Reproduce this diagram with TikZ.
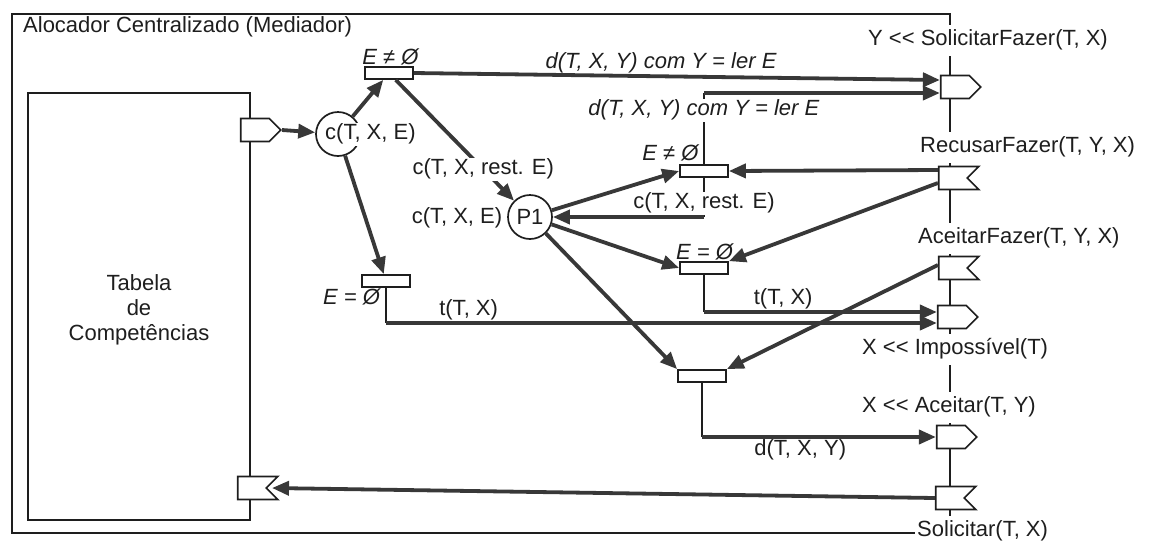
\documentclass[tikz,border=0pt]{standalone}
\usepackage{fontspec}
\setmainfont{Liberation Sans}
\usetikzlibrary{arrows.meta,shapes.symbols,calc}

\definecolor{ink}{HTML}{1E1E1E}
\definecolor{flowgray}{HTML}{383838}

\tikzset{
  lbl/.style={font=\fontsize{22}{25}\selectfont, text=ink, inner sep=1pt, text height=16pt, text depth=5pt},
  msg/.style={lbl, fill=white, inner xsep=2pt, inner ysep=5pt, anchor=west},
  tabtext/.style={font=\fontsize{22}{25}\selectfont, text=ink, align=center},
  trans/.style={rectangle, draw=ink, line width=1.7pt, fill=white, minimum width=48pt, minimum height=12pt, inner sep=0pt},
  place/.style={circle, draw=ink, line width=1.7pt, minimum size=44pt, inner sep=0pt, font=\fontsize{22}{25}\selectfont, text=ink},
  portbase/.style={signal, draw=ink, fill=white, line width=1.7pt, minimum width=40pt, minimum height=23pt, inner sep=0pt, signal pointer angle=90},
  portout/.style={portbase, signal to=east, signal from=nowhere},
  portin/.style={portbase, signal to=nowhere, signal from=east},
  frame/.style={draw=ink, line width=1.7pt},
  stub/.style={draw=ink, line width=1.7pt},
  flow/.style={draw=flowgray, line width=3.8pt, -{Triangle[length=17pt,width=14pt]}},
}

\begin{document}
\begin{tikzpicture}[x=1pt,y=-1pt]
\useasboundingbox (0,0) rectangle (1154,542);

% mediator and table frames
\draw[frame] (12,14) rectangle (950,533);
\draw[frame] (28,93) rectangle (250,520);
\node[lbl,anchor=west] (title) at (22,27) {Alocador Centralizado (Mediador)};
\node[tabtext] (tabela) at (139,310) {Tabela\\de\\Competências};

% ports
\node[portout] (tout) at (255,130) {};
\node[portin]  (tin)  at (252,488) {};
\node[portout] (psf)  at (955,87) {};
\node[portin]  (prf)  at (953,178) {};
\node[portin]  (paf)  at (953,268) {};
\node[portout] (pim)  at (952,317) {};
\node[portout] (pac)  at (951,437) {};
\node[portin]  (pso)  at (950,498) {};

\node[msg] (lsf) at (866,40)  {Y <\kern0pt< SolicitarFazer(T, X)};
\node[msg] (lrf) at (918,147) {RecusarFazer(T, Y, X)};
\node[msg] (laf) at (916,238) {AceitarFazer(T, Y, X)};
\node[msg] (lim) at (860,349) {X <\kern0pt< Impossível(T)};
\node[msg] (lac) at (860,407) {X <\kern0pt< Aceitar(T, Y)};
\node[msg] (lso) at (915,531) {Solicitar(T, X)};

\coordinate (psf-in1) at ($(psf.west)+(0,-7)$);
\coordinate (psf-in2) at ($(psf.west)+(0,6)$);
\coordinate (prf-o1) at ($(prf.west)+(0,-8)$);
\coordinate (prf-o2) at ($(prf.west)+(0,5)$);
\coordinate (paf-o) at ($(paf.west)+(0,-3)$);
\coordinate (pim-in1) at ($(pim.west)+(0,-5)$);
\coordinate (pim-in2) at ($(pim.west)+(0,6)$);
\coordinate (tin-in) at ($(tin.center)+(20,0)$);

% transitions
\node[trans] (t1) at (389,73) {};
\node[trans] (t2) at (704,171) {};
\node[trans] (t3) at (704,268) {};
\node[trans] (t4) at (702,376) {};
\node[trans] (t5) at (386,281) {};
\node[lbl] (lt1) at (391,59)  {\textit{E ≠ Ø}};
\node[lbl] (lt2) at (671,155) {\textit{E ≠ Ø}};
\node[lbl] (lt3) at (705,254) {\textit{E = Ø}};
\node[lbl] (lt5) at (352,299) {\textit{E = Ø}};

% places
\node[place] (cte) at (338,134) {};
\node[lbl,fill=white,anchor=west] (ctetext) at (324,134) {c(T, X, E)};
\node[place] (p1) at (530,217) {P1};
\node[lbl] (lp1) at (457,218) {c(T, X, E)};

% arcs
\draw[flow] (tout.east) -- (cte);
\draw[flow] (cte) -- (t1);
\draw[flow] (cte) -- (t5);
\draw[flow] (t1.east) -- node[lbl,above,pos=0.47] (ld1) {\textit{d(T, X, Y) com Y = ler E}} (psf-in1);
\draw[flow] (t1) -- node[lbl,fill=white,pos=0.74] (lr1) {c(T, X, rest. E)} (p1);

\draw[stub] (t2.north) -- node[lbl,fill=white,pos=0.76] (ld2) {\textit{d(T, X, Y) com Y = ler E}} (t2.north |- psf-in2);
\draw[flow] (t2.north |- psf-in2) -- (psf-in2);
\draw[flow] (p1) -- (t2.west);
\draw[stub] (t2.south) -- node[lbl,fill=white,pos=0.65] (lr2) {c(T, X, rest. E)} (t2.south |- p1);
\draw[flow] (t2.south |- p1) -- (p1);

\draw[flow] (p1) -- (t3.west);
\draw[flow] (p1) -- (t4.north west);
\draw[flow] (prf-o1) -- (t2.east);
\draw[flow] (prf-o2) -- (t3.north east);
\draw[flow] (paf-o) -- (t4.north east);

\draw[stub] (t3.south) -- (t3.south |- pim-in1);
\draw[flow] (t3.south |- pim-in1) -- node[lbl,above,pos=0.34] (ltr) {t(T, X)} (pim-in1);
\draw[stub] (t5.south) -- (t5.south |- pim-in2);
\draw[flow] (t5.south |- pim-in2) -- node[lbl,above,pos=0.15] (ltl) {t(T, X)} (pim-in2);
\draw[stub] (t4.south) -- (t4.south |- pac.west);
\draw[flow] (t4.south |- pac.west) -- node[lbl,below,pos=0.42] (ld3) {d(T, X, Y)} (pac.west);

\draw[flow] (pso.west) -- (tin-in);
\end{tikzpicture}
\end{document}
